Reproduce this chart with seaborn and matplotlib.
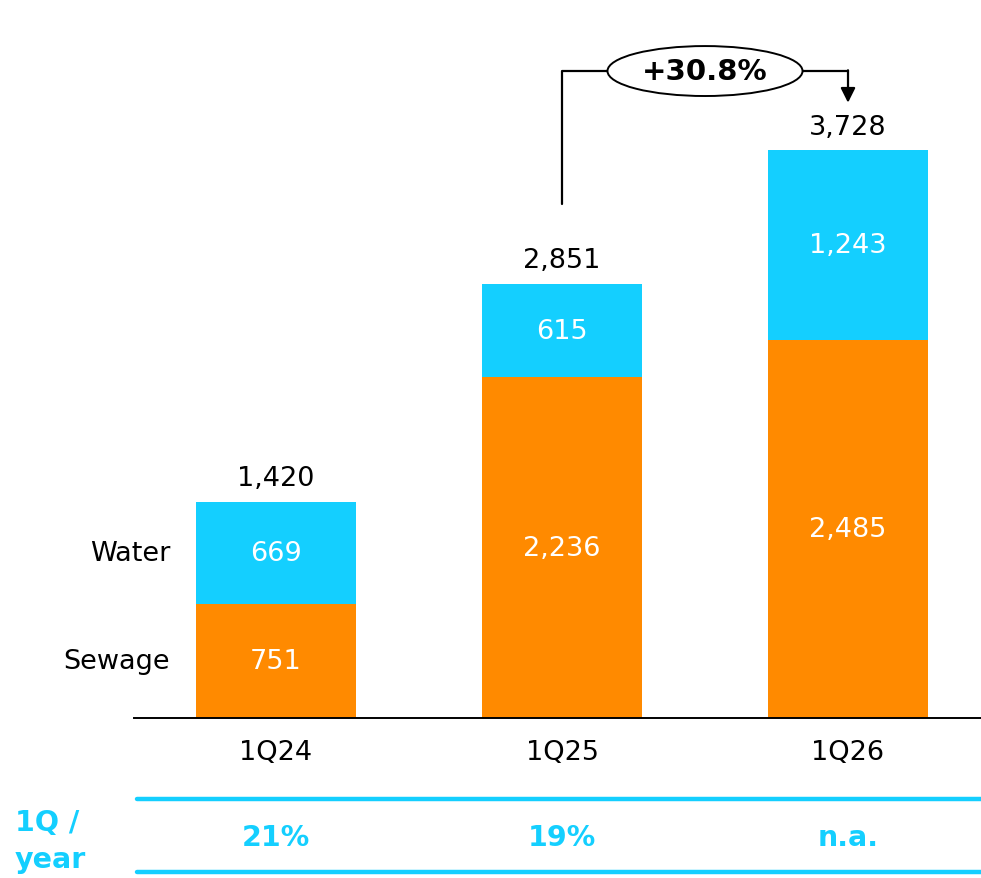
import pandas as pd
import matplotlib.pyplot as plt
import seaborn as sns
from matplotlib.patches import Ellipse
from matplotlib.transforms import blended_transform_factory

# values
quarters = ['1Q24', '1Q25', '1Q26']
sewage = [751, 2236, 2485]
water = [669, 615, 1243]
totals = [1420, 2851, 3728]
share_labels = ['21%', '19%', 'n.a.']
growth_label = '+30.8%'

cyan = '#14CFFF'
orange = '#FF8A00'

sns.set_style('white')
plt.rcParams['font.family'] = ['DejaVu Sans']
plt.rcParams['text.color'] = 'black'
plt.rcParams['xtick.color'] = 'black'

df = pd.DataFrame({'quarter': quarters, 'sewage': sewage, 'water': water, 'total': totals})

fig = plt.figure(figsize=(9.81, 8.79), dpi=100)
ax = fig.add_axes([134 / 981, 160 / 879, 847 / 981, 719 / 879])

sns.barplot(data=df, x='quarter', y='total', color=cyan, width=0.556,
            linewidth=0, saturation=1, ax=ax)
sns.barplot(data=df, x='quarter', y='sewage', color=orange, width=0.556,
            linewidth=0, saturation=1, ax=ax)

ax.set_xlim(-0.4965, 2.465)
ax.set_ylim(0, 4721)
ax.set_xlabel('')
ax.set_ylabel('')
ax.set_yticks([])
ax.tick_params(axis='x', length=0, pad=15, labelsize=19.5, labelcolor='black')
for s in ['top', 'right', 'left']:
    ax.spines[s].set_visible(False)
ax.spines['bottom'].set_linewidth(1.4)
ax.spines['bottom'].set_color('black')

# segment labels
for i, row in df.iterrows():
    ax.text(i, row['sewage'] / 2, f"{row['sewage']:,}", ha='center', va='center',
            color='white', fontsize=19.5)
    ax.text(i, row['sewage'] + row['water'] / 2, f"{row['water']:,}", ha='center',
            va='center', color='white', fontsize=19.5)
    ax.annotate(f"{row['total']:,}", (i, row['total']), xytext=(0, 17),
                textcoords='offset points', ha='center', va='center', fontsize=19.5)

# series names next to first bar
ax.text(-0.37, sewage[0] + water[0] / 2, 'Water', ha='right', va='center', fontsize=19.5)
ax.text(-0.37, sewage[0] / 2, 'Sewage', ha='right', va='center', fontsize=19.5)

# growth bracket
y_top = 4248
ax.plot([1, 1, 1.159], [3375, y_top, y_top], color='black', lw=1.6)
ax.plot([1.841, 2], [y_top, y_top], color='black', lw=1.6)
ax.annotate('', xy=(2, 4040), xytext=(2, y_top + 5),
            arrowprops=dict(arrowstyle='-|>', color='black', lw=1.6,
                            mutation_scale=22, shrinkA=0, shrinkB=0))
ax.add_patch(Ellipse((1.5, y_top), 0.682, 328, facecolor='white',
                     edgecolor='black', lw=1.4, zorder=3))
ax.text(1.5, y_top, growth_label, ha='center', va='center', fontsize=21,
        fontweight='bold', zorder=4)

# bottom table
for yy in [1 - 800 / 879, 1 - 873 / 879]:
    fig.add_artist(plt.Line2D([137 / 981, 1.0], [yy, yy], color=cyan, lw=3.2))
trans = blended_transform_factory(ax.transData, fig.transFigure)
for i, lab in enumerate(share_labels):
    ax.text(i, 1 - 838 / 879, lab, transform=trans, ha='center', va='center',
            color=cyan, fontsize=20.5, fontweight='bold', clip_on=False)
fig.text(15 / 981, 1 - 823 / 879, '1Q /', ha='left', va='center', color=cyan,
         fontsize=20.5, fontweight='bold')
fig.text(15 / 981, 1 - 860 / 879, 'year', ha='left', va='center', color=cyan,
         fontsize=20.5, fontweight='bold')

fig.savefig('out.png', dpi=100)
